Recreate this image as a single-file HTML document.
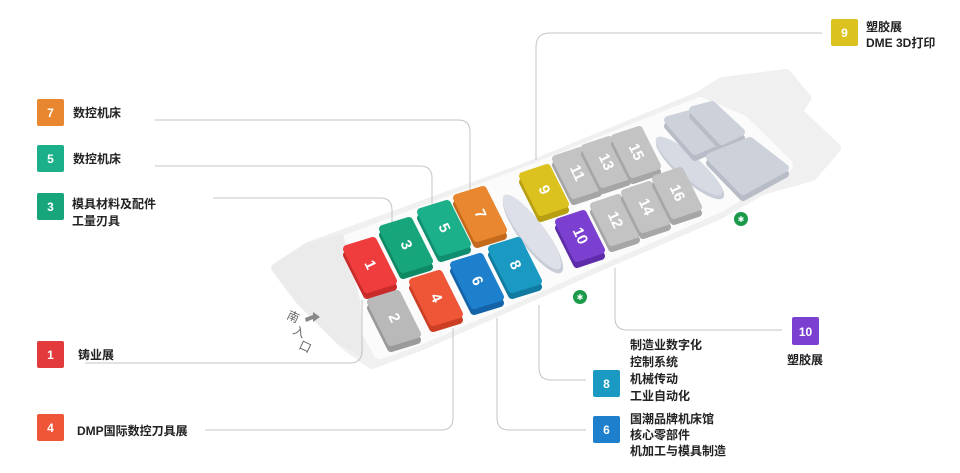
<!DOCTYPE html>
<html><head><meta charset="utf-8"><style>
html,body{margin:0;padding:0;background:#fff;}
svg{display:block;font-family:"Liberation Sans","Noto Sans CJK SC",sans-serif;}
.t{font-size:12px;font-weight:bold;fill:#222;}
.b{font-size:12px;font-weight:bold;fill:#fff;text-anchor:middle;}
.n{font-size:15px;font-weight:bold;fill:#fff;text-anchor:middle;dominant-baseline:central;}
.ln{fill:none;stroke:#c4c4c4;stroke-width:1;}
</style></head><body>
<svg width="960" height="473" viewBox="0 0 960 473" xmlns="http://www.w3.org/2000/svg">
<rect width="960" height="473" fill="#fff"/>
<defs>
<polygon id="B" points="-23,-16 3,-24 23,16 -3,24"/>
<polygon id="S" points="-21,-14 3,-22 21,14 -3,22"/>
</defs>
<!-- floor -->
<g stroke-linejoin="round">
<polygon points="276,268 308,247 520,170 700,96 722,82 786,74 806,98 798,112 836,148 812,176 762,190 720,214 600,266 420,346 372,364 345,345 300,300" fill="#f0f0f0" stroke="#f0f0f0" stroke-width="10"/>
<polygon points="338,245 520,176 700,104 742,122 786,165 720,205 600,258 420,338 380,352 352,300" fill="#fbfbfb" stroke="#fbfbfb" stroke-width="14"/>
<polygon points="276,268 308,247 340,238 356,300 360,352 340,340 300,300" fill="#ebebeb" stroke="#ebebeb" stroke-width="8"/>
</g>
<!-- connectors -->
<path class="ln" d="M155,120 H458 Q470,120 470,132 V190"/>
<path class="ln" d="M155,166 H420 Q432,166 432,178 V205"/>
<path class="ln" d="M213,198 H380 Q392,198 392,210 V222"/>
<path class="ln" d="M85,363 H350 Q362,363 362,351 V300"/>
<path class="ln" d="M205,430 H441 Q453,430 453,418 V328"/>
<path class="ln" d="M497,318 V418 Q497,430 509,430 H586"/>
<path class="ln" d="M539,305 V368 Q539,380 551,380 H586"/>
<path class="ln" d="M615,268 V318 Q615,330 627,330 H782"/>
<path class="ln" d="M536,160 V47 Q536,33 550,33 H822"/>
<!-- ovals -->
<ellipse cx="533" cy="235" rx="47" ry="13" transform="rotate(53 533 235)" fill="#c8ccd6"/>
<ellipse cx="532" cy="232" rx="46" ry="12" transform="rotate(53 532 232)" fill="#dde0e8"/>
<ellipse cx="690" cy="169" rx="44" ry="12" transform="rotate(41 690 169)" fill="#c8ccd6"/>
<ellipse cx="689" cy="166" rx="43" ry="11" transform="rotate(41 689 166)" fill="#d6dae3"/>
<!-- right gray blocks -->
<g stroke-linejoin="round" stroke-width="8">
<polygon points="668,126 690,120 716,148 695,157" fill="#b8bcc6" stroke="#b8bcc6"/>
<polygon points="668,120 690,114 716,142 695,151" fill="#cdd1da" stroke="#cdd1da"/>
<polygon points="693,116 712,111 741,138 722,147" fill="#b8bcc6" stroke="#b8bcc6"/>
<polygon points="693,110 712,105 741,132 722,141" fill="#cdd1da" stroke="#cdd1da"/>
<polygon points="710,163 750,147 785,174 743,197" fill="#b8bcc6" stroke="#b8bcc6"/>
<polygon points="710,157 750,141 785,168 743,191" fill="#cdd1da" stroke="#cdd1da"/>
</g>
<!-- blocks -->
<g stroke-linejoin="round" stroke-width="8">
<g transform="translate(370,265)"><use href="#B" y="6" fill="#c92a2a" stroke="#c92a2a"/><use href="#B" fill="#ef3c3c" stroke="#ef3c3c"/><text class="n" transform="rotate(65)">1</text></g>
<g transform="translate(406,245)"><use href="#B" y="6" fill="#0d8a64" stroke="#0d8a64"/><use href="#B" fill="#17a67b" stroke="#17a67b"/><text class="n" transform="rotate(65)">3</text></g>
<g transform="translate(444,228)"><use href="#B" y="6" fill="#108f70" stroke="#108f70"/><use href="#B" fill="#1cb08a" stroke="#1cb08a"/><text class="n" transform="rotate(65)">5</text></g>
<g transform="translate(480,214)"><use href="#B" y="6" fill="#c46a1c" stroke="#c46a1c"/><use href="#B" fill="#e8872f" stroke="#e8872f"/><text class="n" transform="rotate(65)">7</text></g>
<g transform="translate(394,318)"><use href="#B" y="6" fill="#9a9a9a" stroke="#9a9a9a"/><use href="#B" fill="#b9b9b9" stroke="#b9b9b9"/><text class="n" transform="rotate(65)">2</text></g>
<g transform="translate(436,298)"><use href="#B" y="6" fill="#cc3f24" stroke="#cc3f24"/><use href="#B" fill="#ef5638" stroke="#ef5638"/><text class="n" transform="rotate(65)">4</text></g>
<g transform="translate(477,281)"><use href="#B" y="6" fill="#1463a8" stroke="#1463a8"/><use href="#B" fill="#1e80cd" stroke="#1e80cd"/><text class="n" transform="rotate(65)">6</text></g>
<g transform="translate(515,265)"><use href="#B" y="6" fill="#117aa0" stroke="#117aa0"/><use href="#B" fill="#1a99c2" stroke="#1a99c2"/><text class="n" transform="rotate(65)">8</text></g>
<g transform="translate(544,190)"><use href="#S" y="6" fill="#b89f12" stroke="#b89f12"/><use href="#S" fill="#dcc21e" stroke="#dcc21e"/><text class="n" transform="rotate(65)">9</text></g>
<g transform="translate(580,236)"><use href="#S" y="6" fill="#5e2ca8" stroke="#5e2ca8"/><use href="#S" fill="#7c40d1" stroke="#7c40d1"/><text class="n" transform="rotate(65)">10</text></g>
<g transform="translate(577,173)"><use href="#S" y="6" fill="#a6a6a6" stroke="#a6a6a6"/><use href="#S" fill="#c3c3c3" stroke="#c3c3c3"/><text class="n" transform="rotate(65)">11</text></g>
<g transform="translate(606,162)"><use href="#S" y="6" fill="#a6a6a6" stroke="#a6a6a6"/><use href="#S" fill="#c3c3c3" stroke="#c3c3c3"/><text class="n" transform="rotate(65)">13</text></g>
<g transform="translate(636,152)"><use href="#S" y="6" fill="#a6a6a6" stroke="#a6a6a6"/><use href="#S" fill="#c3c3c3" stroke="#c3c3c3"/><text class="n" transform="rotate(65)">15</text></g>
<g transform="translate(615,220)"><use href="#S" y="6" fill="#a6a6a6" stroke="#a6a6a6"/><use href="#S" fill="#c3c3c3" stroke="#c3c3c3"/><text class="n" transform="rotate(65)">12</text></g>
<g transform="translate(646,207)"><use href="#S" y="6" fill="#a6a6a6" stroke="#a6a6a6"/><use href="#S" fill="#c3c3c3" stroke="#c3c3c3"/><text class="n" transform="rotate(65)">14</text></g>
<g transform="translate(677,193)"><use href="#S" y="6" fill="#a6a6a6" stroke="#a6a6a6"/><use href="#S" fill="#c3c3c3" stroke="#c3c3c3"/><text class="n" transform="rotate(65)">16</text></g>
</g>
<!-- green icons -->
<circle cx="580" cy="297" r="7" fill="#1b9a4c"/><text x="580" y="300" font-size="8" fill="#fff" text-anchor="middle">✱</text>
<circle cx="741" cy="219" r="7" fill="#1b9a4c"/><text x="741" y="222" font-size="8" fill="#fff" text-anchor="middle">✱</text>
<!-- entrance -->
<g font-size="12" fill="#666">
<text transform="translate(286,318) rotate(25)">南</text>
<text transform="translate(292,333) rotate(25)">入</text>
<text transform="translate(298,348) rotate(25)">口</text>
</g>
<polygon points="305,318 313,315 313,312 320,317 313,322 313,319 306,322" fill="#888"/>
<!-- badges left -->
<rect x="37" y="99" width="27" height="27" rx="2" fill="#e8872f"/><text class="b" x="50.5" y="117">7</text>
<text class="t" x="73" y="117">数控机床</text>
<rect x="37" y="145" width="27" height="27" rx="2" fill="#1cb08a"/><text class="b" x="50.5" y="163">5</text>
<text class="t" x="73" y="163">数控机床</text>
<rect x="37" y="193" width="27" height="27" rx="2" fill="#17a67b"/><text class="b" x="50.5" y="211">3</text>
<text class="t" x="72" y="208">模具材料及配件</text>
<text class="t" x="72" y="225">工量刃具</text>
<rect x="37" y="341" width="27" height="27" rx="2" fill="#e33b3b"/><text class="b" x="50.5" y="359">1</text>
<text class="t" x="78" y="359">铸业展</text>
<rect x="37" y="414" width="27" height="27" rx="2" fill="#ef5638"/><text class="b" x="50.5" y="432">4</text>
<text class="t" x="77" y="435">DMP国际数控刀具展</text>
<!-- right badges -->
<rect x="831" y="19" width="27" height="27" rx="2" fill="#dcc21e"/><text class="b" x="844.5" y="37">9</text>
<text class="t" x="866" y="31">塑胶展</text>
<text class="t" x="866" y="47">DME 3D打印</text>
<rect x="792" y="317" width="27" height="28" rx="2" fill="#7c40d1"/><text class="b" x="805.5" y="336">10</text>
<text class="t" x="805" y="364" text-anchor="middle">塑胶展</text>
<rect x="593" y="370" width="27" height="27" rx="2" fill="#1a99c2"/><text class="b" x="606.5" y="388">8</text>
<text class="t" x="630" y="349">制造业数字化</text>
<text class="t" x="630" y="366">控制系统</text>
<text class="t" x="630" y="383">机械传动</text>
<text class="t" x="630" y="400">工业自动化</text>
<rect x="593" y="416" width="27" height="27" rx="2" fill="#1e80cd"/><text class="b" x="606.5" y="434">6</text>
<text class="t" x="630" y="423">国潮品牌机床馆</text>
<text class="t" x="630" y="439">核心零部件</text>
<text class="t" x="630" y="455">机加工与模具制造</text>
</svg>
</body></html>
